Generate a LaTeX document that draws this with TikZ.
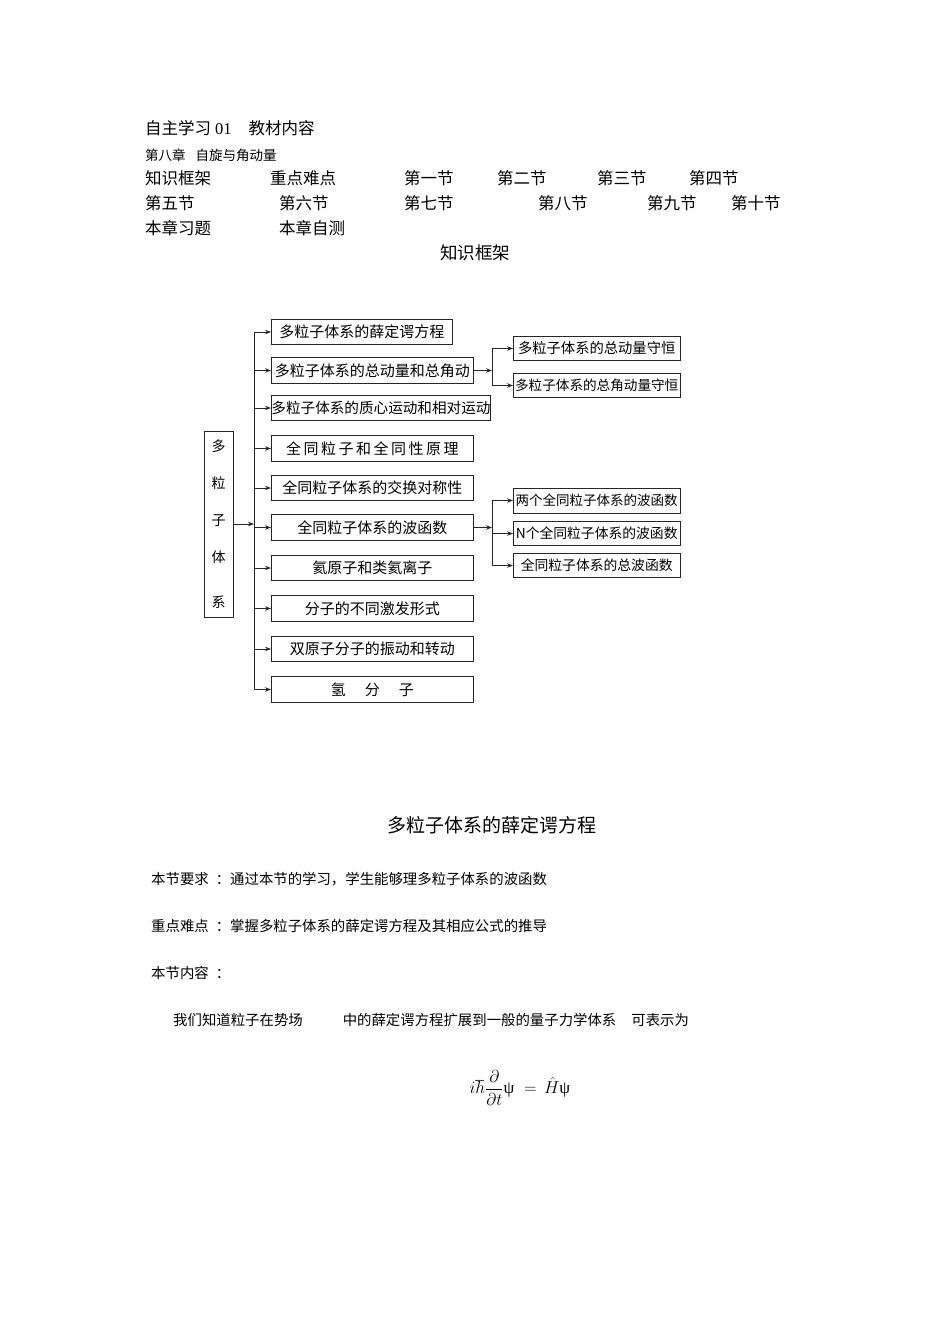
\documentclass[tikz,border=0pt]{standalone}
\usepackage{fontspec}
\setmainfont{Liberation Serif}
\newfontfamily\cjk{Noto Sans CJK SC}
\usepackage{tikz}
\usetikzlibrary{arrows.meta}
\tikzset{
	kbox/.style={draw=black!85, line width=0.9pt, rectangle, inner sep=0pt, anchor=west, minimum height=25.5pt, minimum width=202pt, font=\cjk\fontsize{15}{15}\selectfont},
	subbox/.style={kbox, minimum height=23.5pt, minimum width=166.5pt, font=\cjk\fontsize{13.8}{13.8}\selectfont},
	link/.style={draw=black!85, line width=0.9pt},
	arr/.style={link, -{Stealth[length=6pt,width=4.5pt]}},
	txt/.style={anchor=west, inner sep=0pt, font=\cjk\fontsize{16.5}{16.5}\selectfont},
	para/.style={anchor=west, inner sep=0pt, font=\cjk\fontsize{14.4}{14.4}\selectfont},
}

\begin{document}
\begin{tikzpicture}[x=1pt, y=-1pt]
	\useasboundingbox (0,0) rectangle (950,1344);
	\node[txt] (head) at (145,128) {自主学习\hspace{4pt}{\rmfamily 01}\hspace{17pt}教材内容};
	\node[txt, font=\cjk\fontsize{13.5}{13.5}\selectfont] (chap) at (145,155) {第八章\hspace{10pt}自旋与角动量};
	\node[txt] (kjkj) at (145,178) {知识框架};
	\node[txt] (zdnd) at (270,178) {重点难点};
	\node[txt] (j1) at (404,178) {第一节};
	\node[txt] (j2) at (497,178) {第二节};
	\node[txt] (j3) at (597,178) {第三节};
	\node[txt] (j4) at (689,178) {第四节};
	\node[txt] (j5) at (145,203) {第五节};
	\node[txt] (j6) at (279,203) {第六节};
	\node[txt] (j7) at (404,203) {第七节};
	\node[txt] (j8) at (538,203) {第八节};
	\node[txt] (j9) at (647,203) {第九节};
	\node[txt] (j10) at (731,203) {第十节};
	\node[txt] (xiti) at (145,228) {本章习题};
	\node[txt] (zice) at (279,228) {本章自测};
	\node[font=\cjk\fontsize{17.5}{17.5}\selectfont, inner sep=0pt] (kjtitle) at (475,253) {知识框架};

	\node[draw=black!85, line width=0.9pt, inner sep=0pt, minimum width=29pt, minimum height=186pt, align=center, font=\cjk\fontsize{14}{37}\selectfont] (sys) at (218.5,524) {多\\粒\\子\\体\\[8pt]系};
	\node[kbox, minimum width=181pt] (b1) at (271,332) {多粒子体系的薛定谔方程};
	\node[kbox] (b2) at (271,370.5) {多粒子体系的总动量和总角动};
	\node[kbox, minimum width=211pt, font=\cjk\fontsize{14.6}{14.6}\selectfont] (b3) at (271,408) {多粒子体系的质心运动和相对运动};
	\node[kbox] (b4) at (271,448.5) {全\,同\,粒\,子\,和\,全\,同\,性\,原\,理};
	\node[kbox] (b5) at (271,488) {全同粒子体系的交换对称性};
	\node[kbox] (b6) at (271,527.5) {全同粒子体系的波函数};
	\node[kbox] (b7) at (271,568) {氦原子和类氦离子};
	\node[kbox] (b8) at (271,608.5) {分子的不同激发形式};
	\node[kbox] (b9) at (271,649) {双原子分子的振动和转动};
	\node[kbox] (b10) at (271,689.5) {氢\hspace{19pt}分\hspace{19pt}子};
	\node[subbox, font=\cjk\fontsize{14.3}{14.3}\selectfont] (s1) at (513,348.5) {多粒子体系的总动量守恒};
	\node[subbox, font=\cjk\fontsize{13.6}{13.6}\selectfont] (s2) at (513,385.5) {多粒子体系的总角动量守恒};
	\node[subbox, minimum height=25pt, font=\cjk\fontsize{13.5}{13.5}\selectfont] (sA) at (513,500.5) {两个全同粒子体系的波函数};
	\node[subbox] (sB) at (513,533.5) {N个全同粒子体系的波函数};
	\node[subbox] (sC) at (513,565.5) {全同粒子体系的总波函数};

	\coordinate (trunk) at (254,0);
	\coordinate (jup) at (492,0);
	\coordinate (jdn) at (492,0);
	\draw[arr] (sys.east) -- (sys.east -| trunk);
	\draw[link] (trunk |- b1.west) -- (trunk |- b10.west);
	\foreach \n in {1,...,10}
		\draw[arr] (trunk |- b\n.west) -- (b\n.west);
	\draw[arr] (b2.east) -- (b2.east -| jup);
	\draw[link] (jup |- s1.west) -- (jup |- s2.west);
	\draw[arr] (jup |- s1.west) -- (s1.west);
	\draw[arr] (jup |- s2.west) -- (s2.west);
	\draw[arr] (b6.east) -- (b6.east -| jdn);
	\draw[link] (jdn |- sA.west) -- (jdn |- sC.west);
	\draw[arr] (jdn |- sA.west) -- (sA.west);
	\draw[arr] (jdn |- sB.west) -- (sB.west);
	\draw[arr] (jdn |- sC.west) -- (sC.west);

	\node[font=\cjk\fontsize{19}{19}\selectfont, inner sep=0pt] (sectitle) at (492,825) {多粒子体系的薛定谔方程};
	\node[para] (req) at (151,879) {本节要求\hspace{7pt}：通过本节的学习，学生能够理多粒子体系的波函数};
	\node[para] (keyp) at (151,926) {重点难点\hspace{7pt}：掌握多粒子体系的薛定谔方程及其相应公式的推导};
	\node[para] (cont) at (151,973) {本节内容\hspace{7pt}：};
	\node[para] (intro) at (173,1020) {我们知道粒子在势场\hspace{40pt}中的薛定谔方程扩展到一般的量子力学体系\hspace{15pt}可表示为};
	\node[font=\fontsize{17.28}{20}\selectfont, inner sep=0pt] (eq) at (520,1088) {$\displaystyle i\hbar\frac{\partial}{\partial t}\mbox{\rmfamily ψ} \;=\, \hat{H}\mbox{\rmfamily ψ}$};
\end{tikzpicture}
\end{document}
